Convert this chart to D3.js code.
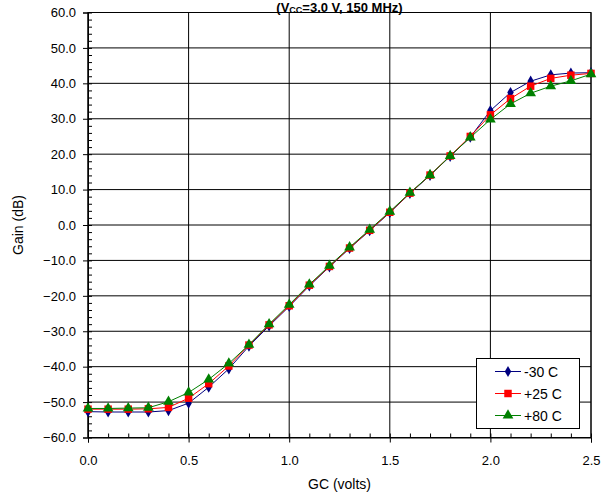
<!DOCTYPE html>
<html><head><meta charset="utf-8">
<script src="https://cdn.jsdelivr.net/npm/d3@7"></script>
<style>html,body{margin:0;padding:0;background:#fff;}svg{display:block;font-family:"Liberation Sans",Arial,sans-serif;}</style>
</head><body>
<script>
const gcVolts = [0.0,0.1,0.2,0.3,0.4,0.5,0.6,0.7,0.8,0.9,1.0,1.1,1.2,1.3,1.4,1.5,1.6,1.7,1.8,1.9,2.0,2.1,2.2,2.3,2.4,2.5];
const gainM30 = [-52.7,-52.8,-52.8,-52.8,-52.4,-50.3,-45.8,-40.6,-34.2,-28.5,-23.0,-17.2,-11.8,-6.6,-1.6,3.5,8.9,14.0,19.4,24.8,32.3,37.4,40.6,42.4,42.9,43.0];
const gainP25 = [-52.0,-52.0,-52.0,-51.9,-51.5,-48.9,-44.8,-39.8,-33.9,-28.2,-22.8,-17.0,-11.7,-6.5,-1.5,3.6,9.0,14.1,19.5,25.0,31.1,35.7,39.2,41.4,42.3,42.8];
const gainP80 = [-51.8,-51.8,-51.7,-51.6,-49.9,-47.3,-43.6,-39.1,-33.8,-28.0,-22.5,-16.8,-11.5,-6.3,-1.3,3.8,9.1,14.1,19.5,24.7,29.8,34.2,37.2,39.2,40.7,42.6];
const seriesNames = ["-30 C","+25 C","+80 C"];
const xTicks = [0.0,0.5,1.0,1.5,2.0,2.5];
const yTicks = [-60,-50,-40,-30,-20,-10,0,10,20,30,40,50,60];

const W = 611, H = 499;
const L = 88, R = 591, T = 12.5, B = 437.5;
const svg = d3.select("body").append("svg").attr("width", W).attr("height", H);
const x = d3.scaleLinear().domain([0, 2.5]).range([L, R]);
const y = d3.scaleLinear().domain([-60, 60]).range([B, T]);

// gridlines
const g = svg.append("g");
g.selectAll("line.vg").data(xTicks).enter().append("line")
  .attr("x1", d => x(d)).attr("x2", d => x(d)).attr("y1", T).attr("y2", B)
  .attr("stroke", "#000").attr("stroke-width", 1);
g.selectAll("line.hg").data(yTicks).enter().append("line")
  .attr("y1", d => y(d)).attr("y2", d => y(d)).attr("x1", L).attr("x2", R)
  .attr("stroke", "#000").attr("stroke-width", 1);

// frame
svg.append("rect").attr("x", L).attr("y", T).attr("width", R - L).attr("height", B - T)
  .attr("fill", "none").attr("stroke", "#000").attr("stroke-width", 1);

// axes
const fmt = d3.format(".1f");
svg.append("g").attr("transform", `translate(0,${B})`)
  .call(d3.axisBottom(x).tickValues(xTicks).tickFormat(fmt).tickSize(5).tickPadding(13));
const xMinor = d3.range(0, 26).map(i => i / 10);
svg.append("g").attr("transform", `translate(0,${B})`)
  .call(d3.axisTop(x).tickValues(xMinor).tickSize(4).tickFormat(""))
  .call(s => s.select(".domain").remove());
svg.append("g").attr("transform", `translate(${L},0)`)
  .call(d3.axisLeft(y).tickValues(yTicks).tickFormat(fmt).tickSize(5).tickPadding(7));
const yMinor = d3.range(-60, 61, 2);
svg.append("g").attr("transform", `translate(${L},0)`)
  .call(d3.axisRight(y).tickValues(yMinor).tickSize(4).tickFormat(""))
  .call(s => s.select(".domain").remove());
svg.selectAll(".tick text").attr("font-size", 13).attr("fill", "#000")
  .attr("font-family", "'Liberation Sans',Arial,sans-serif");
svg.selectAll(".tick line, .domain").attr("stroke", "#000");

// axis titles
svg.append("text").attr("x", (L + R) / 2).attr("y", 489).attr("text-anchor", "middle")
  .attr("font-size", 14).text("GC (volts)");
svg.append("text").attr("transform", `translate(23,${(T + B) / 2}) rotate(-90)`)
  .attr("text-anchor", "middle").attr("font-size", 14).text("Gain (dB)");

// title
const title = svg.append("text").attr("x", (L + R) / 2).attr("y", 12).attr("text-anchor", "middle")
  .attr("font-size", 13).attr("font-weight", "bold");
title.append("tspan").text("(V");
title.append("tspan").attr("font-size", 9).attr("dy", 1).text("CC");
title.append("tspan").attr("dy", -1).text("=3.0 V, 150 MHz)");

// series
const series = [
  {name: seriesNames[0], vals: gainM30, color: "#000080", marker: d3.symbolDiamond, size: 36},
  {name: seriesNames[1], vals: gainP25, color: "#ff0000", marker: d3.symbolSquare, size: 56},
  {name: seriesNames[2], vals: gainP80, color: "#008000", marker: d3.symbolTriangle, size: 50}
];
const line = d3.line().x((d, i) => x(gcVolts[i])).y(d => y(d));
series.forEach(s => {
  const gg = svg.append("g");
  gg.append("path").attr("d", line(s.vals)).attr("fill", "none").attr("stroke", s.color).attr("stroke-width", 1);
  gg.selectAll("path.m").data(s.vals).enter().append("path")
    .attr("d", d3.symbol().type(s.marker).size(s.size))
    .attr("transform", (d, i) => `translate(${x(gcVolts[i])},${y(d)})`)
    .attr("fill", s.color);
});

// legend
const lg = svg.append("g");
lg.append("rect").attr("x", 476.5).attr("y", 358.5).attr("width", 103).attr("height", 70)
  .attr("fill", "#fff").attr("stroke", "#000").attr("stroke-width", 1);
const rows = [371.5, 393.5, 415.5];
series.forEach((s, i) => {
  lg.append("line").attr("x1", 495).attr("x2", 521).attr("y1", rows[i]).attr("y2", rows[i])
    .attr("stroke", s.color).attr("stroke-width", 1);
  lg.append("path").attr("d", d3.symbol().type(s.marker).size(s.size))
    .attr("transform", `translate(508,${rows[i]})`).attr("fill", s.color);
  lg.append("text").attr("x", 524).attr("y", rows[i] + 5).attr("font-size", 14).text(s.name);
});
</script>
</body></html>
